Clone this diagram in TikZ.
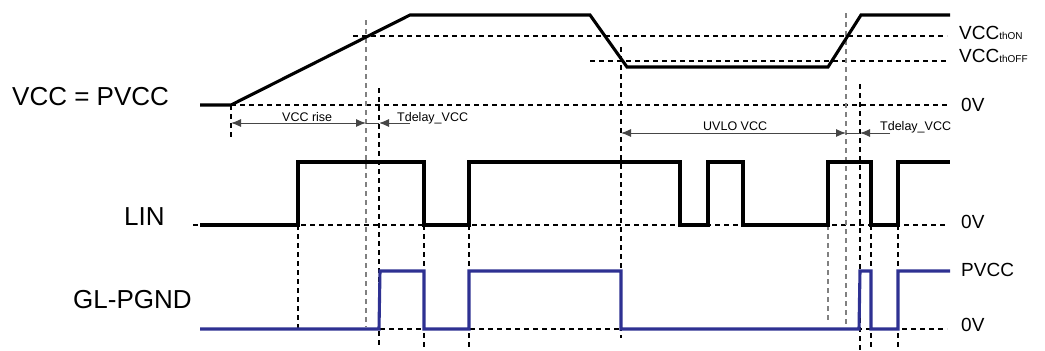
\documentclass[tikz,border=0pt]{standalone}
\usepackage{fontspec}
\setmainfont{Liberation Sans}
\usetikzlibrary{arrows.meta,calc,positioning}
\definecolor{glblue}{RGB}{46,49,146}
\definecolor{dimgrey}{RGB}{70,70,70}

\begin{document}
\begin{tikzpicture}[x=1pt,y=-1pt]
	\tikzstyle{every node} = [inner sep = 0pt]
	\tikzstyle{sig} = [line width = 3.1pt, line join = miter]
	\tikzstyle{guide} = [line width = 1.1pt, dash pattern = on 5pt off 4pt]
	\tikzstyle{dimline} = [line width = 1pt, draw = dimgrey, -{Latex[length = 10pt, width = 8pt]}]
	\tikzstyle{big} = [font = \fontsize{26}{28}\selectfont, anchor = base west]
	\tikzstyle{lvl} = [font = \fontsize{19}{21}\selectfont, anchor = base west]
	\tikzstyle{small} = [font = \fontsize{12.5}{14}\selectfont, anchor = base west]
\useasboundingbox (0,0) rectangle (1045,351);

% signal names
\node[big] (vcc) at (12,105) {VCC = PVCC};
\node[big] (lin) at (124,225) {LIN};
\node[big] (gl) at (73,308) {GL-PGND};

% levels on the right
\node[lvl] (on) at (959,39) {VCC{\fontsize{10}{12}\selectfont thON}};
\node[lvl] (off) at (959,62) {VCC{\fontsize{10}{12}\selectfont thOFF}};
\node[lvl] (z1) at (961,111) {0V};
\node[lvl] (z2) at (961,228) {0V};
\node[lvl] (pv) at (961,276) {PVCC};
\node[lvl] (z3) at (961,331) {0V};

% horizontal guides
	\path[draw, guide] (353,36) -- (947,36);
	\path[draw, guide] (590,61) -- (947,61);
	\path[draw, guide] (231,105) -- (947,105);
	\path[draw, guide] (193,225) -- (947,225);
	\path[draw, guide] (380,329) -- (947,329);

% vertical guides
	\path[draw, guide] (231,105) -- (231,139);
	\path[draw, guide, gray] (366,20) -- (366,327);
	\path[draw, guide] (379,88) -- (379,347);
	\path[draw, guide] (298,225) -- (298,332);
	\path[draw, guide] (424,225) -- (424,347);
	\path[draw, guide] (469,225) -- (469,349);
	\path[draw, guide] (621,47) -- (621,338);
	\path[draw, guide, gray] (828,225) -- (828,323);
	\path[draw, guide, gray] (846,13) -- (846,327);
	\path[draw, guide] (860,84) -- (860,351);
	\path[draw, guide] (871,225) -- (871,351);
	\path[draw, guide] (898,225) -- (898,351);

% time intervals
\coordinate (rA) at (231,123);
\coordinate (rB) at (366,123);
\coordinate (dA) at (379,123);
\coordinate (dB) at (410,123);
\coordinate (uA) at (621,133);
\coordinate (uB) at (846,133);
\coordinate (eA) at (860,133);
\coordinate (eB) at (890,133);
	\path[draw, dimline, {Latex[length = 10pt, width = 8pt]}-{Latex[length = 10pt, width = 8pt]}] (rA) -- (rB);
	\path[draw, dimline, -] (rB) -- (dA);
	\path[draw, dimline] (dB) -- (dA);
	\path[draw, dimline, {Latex[length = 10pt, width = 8pt]}-{Latex[length = 10pt, width = 8pt]}] (uA) -- (uB);
	\path[draw, dimline, -] (uB) -- (eA);
	\path[draw, dimline] (eB) -- (eA);
\node[small] (trise) at (282,121) {VCC rise};
\node[small] (td1) at (397,121) {Tdelay\_VCC};
\node[small] (tuv) at (703,130) {UVLO VCC};
\node[small] (td2) at (880,130) {Tdelay\_VCC};

% waveforms
	\path[draw, sig] (200,105) -- (231,105) -- (410,15) -- (590,15) -- (627,67)
		-- (828,67) -- (861,15) -- (950,15);
	\path[draw, sig] (200,225) -- (298,225) -- (298,162) -- (424,162) -- (424,225)
		-- (469,225) -- (469,162) -- (680,162) -- (680,225) -- (708,225) -- (708,162)
		-- (743,162) -- (743,225) -- (828,225) -- (828,162) -- (871,162) -- (871,225)
		-- (898,225) -- (898,162) -- (950,162);
	\path[draw, sig, glblue] (200,329) -- (379,329) -- (380,271) -- (424,271) -- (424,329)
		-- (469,329) -- (469,271) -- (621,271) -- (621,329) -- (859,329) -- (860,271)
		-- (871,271) -- (871,329) -- (898,329) -- (898,271) -- (950,271);
\end{tikzpicture}
\end{document}
